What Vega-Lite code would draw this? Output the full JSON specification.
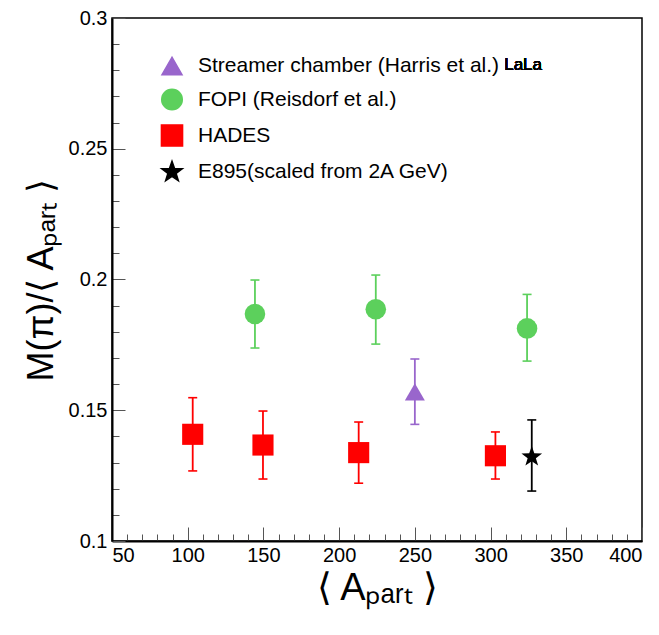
{
  "$schema": "https://vega.github.io/schema/vega-lite/v6.json",
  "width": 530,
  "height": 523,
  "autosize": {"type": "none"},
  "padding": {"left": 112, "top": 18, "right": 17, "bottom": 94},
  "background": "white",
  "config": {
    "view": {"stroke": "black", "strokeWidth": 1.5},
    "axis": {"grid": false, "labelFont": "Liberation Sans", "labelFontSize": 20, "labelColor": "black", "titleFont": "Liberation Sans", "titleColor": "black", "titleFontWeight": "normal", "domainColor": "black", "tickColor": "#555"},
    "legend": {"orient": "none", "legendX": 48, "legendY": 37, "title": null, "padding": 0, "labelFont": "Liberation Sans", "labelFontSize": 21, "labelColor": "black", "symbolSize": 400, "labelOffset": 14, "rowPadding": 8, "labelLimit": 500}
  },
  "data": {
    "values": [
      {"series": "Streamer chamber (Harris et al.)", "A": 250, "M": 0.157, "lo": 0.1446, "hi": 0.1696},
      {"series": "FOPI (Reisdorf et al.)", "A": 144.4, "M": 0.1868, "lo": 0.1738, "hi": 0.1998},
      {"series": "FOPI (Reisdorf et al.)", "A": 224.2, "M": 0.1886, "lo": 0.1753, "hi": 0.2017},
      {"series": "FOPI (Reisdorf et al.)", "A": 324.1, "M": 0.1813, "lo": 0.1688, "hi": 0.1943},
      {"series": "HADES", "A": 103.3, "M": 0.1408, "lo": 0.1268, "hi": 0.1548},
      {"series": "HADES", "A": 149.7, "M": 0.1367, "lo": 0.1237, "hi": 0.1497},
      {"series": "HADES", "A": 212.9, "M": 0.1338, "lo": 0.1221, "hi": 0.1455},
      {"series": "HADES", "A": 303.2, "M": 0.1326, "lo": 0.1237, "hi": 0.1417},
      {"series": "E895(scaled from 2A GeV)", "A": 327.2, "M": 0.1322, "lo": 0.1191, "hi": 0.1463}
    ]
  },
  "layer": [
    {
      "mark": {"type": "rule", "strokeWidth": 1.8},
      "encoding": {
        "x": {"field": "A", "type": "quantitative", "scale": {"domain": [50, 400], "nice": false, "zero": false},
          "axis": {"orient": "bottom", "values": [60,70,80,90,110,120,130,140,160,170,180,190,210,220,230,240,260,270,280,290,310,320,330,340,360,370,380,390], "labels": false, "domain": false, "tickSize": -7, "title": null}},
        "y": {"field": "lo", "type": "quantitative", "scale": {"domain": [0.1, 0.3], "nice": false, "zero": false},
          "axis": {"orient": "left", "values": [0.11,0.12,0.13,0.14,0.16,0.17,0.18,0.19,0.21,0.22,0.23,0.24,0.26,0.27,0.28,0.29], "labels": false, "domain": false, "tickSize": -7, "title": null}},
        "y2": {"field": "hi"},
        "color": {"field": "series", "type": "nominal"}
      }
    },
    {
      "mark": {"type": "point", "shape": "stroke", "size": 81, "strokeWidth": 1.6, "filled": false, "opacity": 1},
      "encoding": {
        "x": {"field": "A", "type": "quantitative", "axis": null},
        "y": {"field": "lo", "type": "quantitative", "axis": null},
        "color": {"field": "series", "type": "nominal"}
      }
    },
    {
      "mark": {"type": "point", "shape": "stroke", "size": 81, "strokeWidth": 1.6, "filled": false, "opacity": 1},
      "encoding": {
        "x": {"field": "A", "type": "quantitative", "axis": null},
        "y": {"field": "hi", "type": "quantitative", "axis": null},
        "color": {"field": "series", "type": "nominal"}
      }
    },
    {
      "mark": {"type": "point", "filled": true, "opacity": 1, "strokeWidth": 0},
      "encoding": {
        "x": {"field": "A", "type": "quantitative",
          "axis": {"orient": "bottom", "values": [50,100,150,200,250,300,350,400], "tickSize": -14, "labelPadding": 18, "domainWidth": 2, "title": "⟨ Aₚₐᵣₜ ⟩", "titleFontSize": 38, "titlePadding": 4}},
        "y": {"field": "M", "type": "quantitative",
          "axis": {"orient": "left", "values": [0.1,0.15,0.2,0.25,0.3], "format": ".2~f", "tickSize": -13, "labelPadding": 18, "domainWidth": 2, "title": "M(π)/⟨ Aₚₐᵣₜ ⟩", "titleFontSize": 36, "titlePadding": 8}},
        "color": {"field": "series", "type": "nominal",
          "scale": {"domain": ["Streamer chamber (Harris et al.)", "FOPI (Reisdorf et al.)", "HADES", "E895(scaled from 2A GeV)"], "range": ["#9966CC", "#5CD05C", "#FF0000", "#000000"]},
          "legend": {
            "encode": {"symbols": {
              "shape": {"value": {"expr": "datum.value === 'HADES' ? 'M-1.9,0H1.9M-0.8,-0.8H0.8V0.8H-0.8Z' : datum.value === 'FOPI (Reisdorf et al.)' ? 'M-1.9,0H1.9M1,0A1,1,0,1,1,-1,0A1,1,0,1,1,1,0Z' : datum.value === 'E895(scaled from 2A GeV)' ? 'M-1.9,0H1.9M0,-1.15L0.27,-0.37L1.09,-0.36L0.44,0.14L0.68,0.93L0,0.46L-0.68,0.93L-0.44,0.14L-1.09,-0.36L-0.27,-0.37Z' : 'M-1.9,0H1.9M0,-0.87L1,0.87L-1,0.87Z'"}},
              "stroke": {"value": {"expr": "scale('color', datum.value)"}},
              "strokeWidth": {"value": 1.2}
            }}}},
        "shape": {"field": "series", "type": "nominal",
          "scale": {"domain": ["Streamer chamber (Harris et al.)", "FOPI (Reisdorf et al.)", "HADES", "E895(scaled from 2A GeV)"], "range": ["triangle-up", "circle", "square", "M0,-1L0.235,-0.324L0.951,-0.309L0.38,0.124L0.588,0.809L0,0.4L-0.588,0.809L-0.38,0.124L-0.951,-0.309L-0.235,-0.324Z"]},
          "legend": {
            "encode": {"symbols": {
              "shape": {"value": {"expr": "datum.value === 'HADES' ? 'M-1.9,0H1.9M-0.8,-0.8H0.8V0.8H-0.8Z' : datum.value === 'FOPI (Reisdorf et al.)' ? 'M-1.9,0H1.9M1,0A1,1,0,1,1,-1,0A1,1,0,1,1,1,0Z' : datum.value === 'E895(scaled from 2A GeV)' ? 'M-1.9,0H1.9M0,-1.15L0.27,-0.37L1.09,-0.36L0.44,0.14L0.68,0.93L0,0.46L-0.68,0.93L-0.44,0.14L-1.09,-0.36L-0.27,-0.37Z' : 'M-1.9,0H1.9M0,-0.87L1,0.87L-1,0.87Z'"}},
              "stroke": {"value": {"expr": "scale('color', datum.value)"}},
              "strokeWidth": {"value": 1.2}
            }}}},
        "size": {"field": "series", "type": "nominal", "legend": null,
          "scale": {"domain": ["Streamer chamber (Harris et al.)", "FOPI (Reisdorf et al.)", "HADES", "E895(scaled from 2A GeV)"], "range": [400, 470, 270, 620]}}
      }
    },
    {
      "mark": {"type": "text", "font": "Liberation Sans", "fontWeight": "normal", "fontSize": 17, "align": "left", "baseline": "middle", "color": "black"},
      "encoding": {
        "x": {"datum": 309, "axis": null},
        "y": {"datum": 0.282, "axis": null},
        "text": {"value": "LaLa"}
      }
    }
  ],
  "resolve": {"axis": {"x": "independent", "y": "independent"}}
}
